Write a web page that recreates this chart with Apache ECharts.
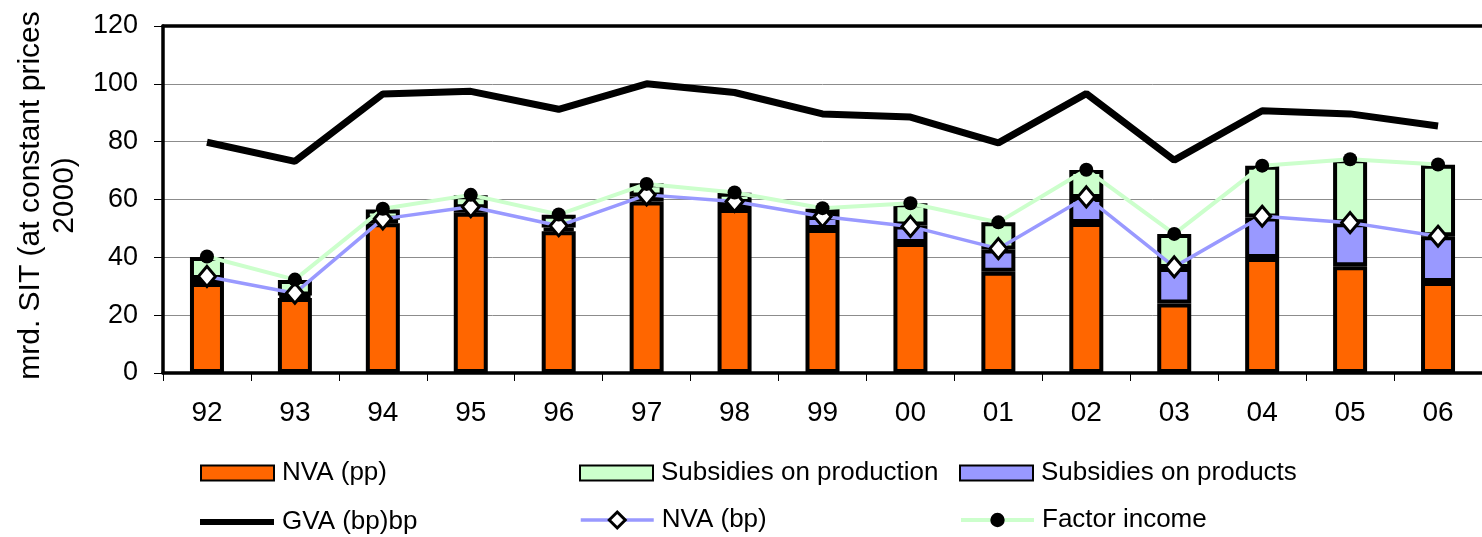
<!DOCTYPE html>
<html>
<head>
<meta charset="utf-8">
<script src="https://cdn.jsdelivr.net/npm/echarts@6/dist/echarts.min.js"></script>
<style>
html,body{margin:0;padding:0;background:#fff;}
#chart{width:1482px;height:537px;}
</style>
</head>
<body>
<div id="chart"></div>
<script>
const categories = ['92','93','94','95','96','97','98','99','00','01','02','03','04','05','06'];
const nvaPP = [31.1, 25.9, 51.8, 55.4, 49.0, 59.3, 56.7, 49.8, 45.0, 35.0, 51.9, 24.0, 39.8, 36.9, 31.5];
const subsProducts = [1.4, 0.9, 1.2, 1.6, 1.3, 1.7, 2.1, 4.5, 6.0, 7.7, 8.6, 12.3, 14.0, 14.9, 15.8];
const subsProduction = [7.6, 5.4, 3.5, 4.5, 4.4, 4.6, 3.5, 2.5, 7.7, 9.4, 9.7, 11.8, 17.9, 22.1, 24.7];
const gvaBP = [79.8, 73.2, 96.5, 97.4, 91.2, 100.0, 97.0, 89.6, 88.5, 79.6, 96.6, 73.6, 90.7, 89.6, 85.4];
const nvaBP = [33.4, 27.6, 53.3, 57.5, 50.9, 61.6, 59.3, 54.1, 50.7, 43.0, 60.9, 36.7, 54.2, 52.0, 47.3];
const factorIncome = [40.3, 32.3, 56.8, 61.6, 54.8, 65.4, 62.4, 57.0, 58.7, 52.1, 70.3, 48.1, 71.7, 73.9, 72.1];
const yTicks = [0, 20, 40, 60, 80, 100, 120];

const FONT = 'Liberation Sans, Arial, sans-serif';
const chart = echarts.init(document.getElementById('chart'), null, {renderer: 'canvas'});

function legendAt(name, left, top, extra) {
  return Object.assign({
    data: [name], left: left, top: top, padding: 0,
    itemWidth: 73, itemHeight: 15,
    textStyle: {fontFamily: FONT, fontSize: 26, color: '#000', padding: [0, 0, 0, 3]},
    selectedMode: false
  }, extra || {});
}

const barStyle = c => ({color: c, borderColor: '#000', borderWidth: 4});

chart.setOption({
  animation: false,
  backgroundColor: '#fff',
  grid: {left: 163, top: 26, right: -7, bottom: 164, show: false, containLabel: false},
  legend: [
    legendAt('NVA (pp)', 200, 460, {icon: 'rect'}),
    legendAt('Subsidies on production', 579, 460, {icon: 'rect'}),
    legendAt('Subsidies on products', 959, 460, {icon: 'rect'}),
    legendAt('GVA (bp)bp', 200, 509, {
      data: [{name: 'GVA (bp)bp', icon: 'rect'}], itemWidth: 74, itemHeight: 6,
      itemStyle: {color: '#000', borderWidth: 0}
    }),
    legendAt('NVA (bp)', 579, 507, {itemHeight: 20, lineStyle: {width: 3.5, color: '#9999FF'},
      itemStyle: {color: '#fff', borderColor: '#000', borderWidth: 3}}),
    legendAt('Factor income', 959, 507, {itemHeight: 18, lineStyle: {width: 4, color: '#CCFFCC'},
      itemStyle: {color: '#000', borderWidth: 0}})
  ],
  xAxis: [{
    type: 'category', data: categories, boundaryGap: true,
    axisLine: {lineStyle: {color: '#000', width: 3.5}},
    axisTick: {show: true, length: 8, lineStyle: {color: '#000', width: 1}},
    axisLabel: {fontFamily: FONT, fontSize: 28, color: '#000', margin: 26}
  }, {
    type: 'category', data: categories, position: 'top', boundaryGap: true,
    axisLine: {show: true, lineStyle: {color: '#000', width: 3.5}},
    axisTick: {show: false}, axisLabel: {show: false}, splitLine: {show: false}
  }],
  yAxis: {
    type: 'value', min: yTicks[0], max: yTicks[yTicks.length - 1], interval: 20,
    name: 'mrd. SIT (at constant prices\n2000)',
    nameLocation: 'middle', nameGap: 80,
    nameTextStyle: {fontFamily: FONT, fontSize: 30, color: '#000', lineHeight: 34, align: 'center', padding: [0, 0, 0, 8]},
    axisLine: {show: true, lineStyle: {color: '#000', width: 3.5}},
    axisTick: {show: true, length: 9, lineStyle: {color: '#000', width: 1}},
    axisLabel: {fontFamily: FONT, fontSize: 27, color: '#000', margin: 25},
    splitLine: {show: true, lineStyle: {color: '#8c8c8c', width: 1}}
  },
  series: [
    {name: 'NVA (pp)', type: 'bar', stack: 'v', barWidth: 34, data: nvaPP, itemStyle: barStyle('#FF6600')},
    {name: 'Subsidies on products', type: 'bar', stack: 'v', barWidth: 34, data: subsProducts, itemStyle: barStyle('#9999FF')},
    {name: 'Subsidies on production', type: 'bar', stack: 'v', barWidth: 34, data: subsProduction, itemStyle: barStyle('#CCFFCC')},
    {name: 'GVA (bp)bp', type: 'line', data: gvaBP, symbol: 'none', lineStyle: {color: '#000', width: 7}, itemStyle: {color: '#000'}},
    {name: 'NVA (bp)', type: 'line', data: nvaBP, symbol: 'diamond', symbolSize: [17, 20],
      lineStyle: {color: '#9999FF', width: 3.5}, itemStyle: {color: '#fff', borderColor: '#000', borderWidth: 3}},
    {name: 'Factor income', type: 'line', data: factorIncome, symbol: 'circle', symbolSize: 14,
      lineStyle: {color: '#CCFFCC', width: 4}, itemStyle: {color: '#000'}}
  ]
});
</script>
</body>
</html>
